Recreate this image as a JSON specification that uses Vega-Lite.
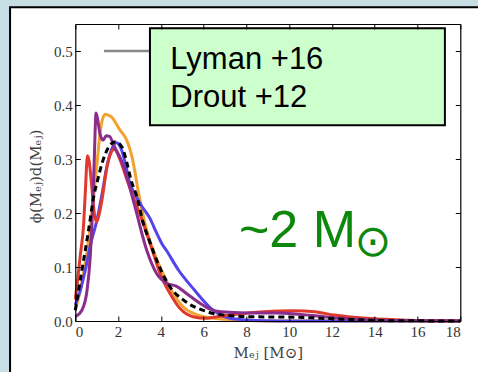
{
  "$schema": "https://vega.github.io/schema/vega-lite/v6.json",
  "width": 385,
  "height": 297,
  "autosize": {"type": "none"},
  "padding": {"left": 75.3, "top": 24, "right": 17.7, "bottom": 51},
  "background": "#c7dee5",
  "config": {
    "view": {"stroke": null},
    "axis": {
      "domainColor": "black",
      "domainWidth": 1.2,
      "tickColor": "black",
      "tickSize": -5,
      "tickWidth": 1,
      "labelFont": "Liberation Serif",
      "labelFontSize": 15,
      "labelColor": "#333333",
      "titleFont": "DejaVu Serif",
      "titleFontSize": 15,
      "titleColor": "#444444",
      "titleFontWeight": "normal",
      "grid": false
    }
  },
  "datasets": {
    "curves": [
      {"s": "red", "x": 0, "y": 0.04}, {"s": "red", "x": 0.12, "y": 0.08}, {"s": "red", "x": 0.23, "y": 0.12}, {"s": "red", "x": 0.39, "y": 0.18}, {"s": "red", "x": 0.47, "y": 0.24}, {"s": "red", "x": 0.57, "y": 0.306}, {"s": "red", "x": 0.65, "y": 0.295}, {"s": "red", "x": 0.72, "y": 0.27}, {"s": "red", "x": 0.8, "y": 0.235}, {"s": "red", "x": 0.9, "y": 0.196}, {"s": "red", "x": 1.0, "y": 0.184}, {"s": "red", "x": 1.1, "y": 0.195}, {"s": "red", "x": 1.25, "y": 0.225}, {"s": "red", "x": 1.48, "y": 0.285}, {"s": "red", "x": 1.65, "y": 0.31}, {"s": "red", "x": 1.82, "y": 0.318}, {"s": "red", "x": 2.1, "y": 0.298}, {"s": "red", "x": 2.42, "y": 0.261}, {"s": "red", "x": 2.75, "y": 0.226}, {"s": "red", "x": 3.0, "y": 0.2}, {"s": "red", "x": 3.34, "y": 0.162}, {"s": "red", "x": 3.65, "y": 0.125}, {"s": "red", "x": 3.96, "y": 0.088}, {"s": "red", "x": 4.43, "y": 0.051}, {"s": "red", "x": 4.9, "y": 0.023}, {"s": "red", "x": 5.5, "y": 0.008}, {"s": "red", "x": 6.1, "y": 0.005}, {"s": "red", "x": 6.8, "y": 0.009}, {"s": "red", "x": 7.6, "y": 0.013}, {"s": "red", "x": 8.8, "y": 0.017}, {"s": "red", "x": 10.2, "y": 0.019}, {"s": "red", "x": 11.2, "y": 0.017}, {"s": "red", "x": 12.1, "y": 0.011}, {"s": "red", "x": 13.6, "y": 0.005}, {"s": "red", "x": 15.2, "y": 0.002}, {"s": "red", "x": 16.5, "y": 0.0005}, {"s": "red", "x": 18, "y": 0},

      {"s": "orange", "x": 0, "y": 0.02}, {"s": "orange", "x": 0.3, "y": 0.07}, {"s": "orange", "x": 0.55, "y": 0.13}, {"s": "orange", "x": 0.8, "y": 0.21}, {"s": "orange", "x": 1.0, "y": 0.285}, {"s": "orange", "x": 1.15, "y": 0.345}, {"s": "orange", "x": 1.25, "y": 0.37}, {"s": "orange", "x": 1.4, "y": 0.383}, {"s": "orange", "x": 1.55, "y": 0.381}, {"s": "orange", "x": 1.72, "y": 0.377}, {"s": "orange", "x": 1.9, "y": 0.366}, {"s": "orange", "x": 2.1, "y": 0.353}, {"s": "orange", "x": 2.34, "y": 0.34}, {"s": "orange", "x": 2.5, "y": 0.325}, {"s": "orange", "x": 2.65, "y": 0.304}, {"s": "orange", "x": 2.78, "y": 0.278}, {"s": "orange", "x": 2.9, "y": 0.25}, {"s": "orange", "x": 3.34, "y": 0.168}, {"s": "orange", "x": 3.65, "y": 0.13}, {"s": "orange", "x": 3.96, "y": 0.1}, {"s": "orange", "x": 4.58, "y": 0.051}, {"s": "orange", "x": 5.05, "y": 0.026}, {"s": "orange", "x": 5.67, "y": 0.012}, {"s": "orange", "x": 6.3, "y": 0.006}, {"s": "orange", "x": 7, "y": 0.003}, {"s": "orange", "x": 8, "y": 0.001}, {"s": "orange", "x": 10, "y": 0}, {"s": "orange", "x": 18, "y": 0},

      {"s": "blue", "x": 0, "y": 0.03}, {"s": "blue", "x": 0.22, "y": 0.055}, {"s": "blue", "x": 0.5, "y": 0.1}, {"s": "blue", "x": 0.7, "y": 0.14}, {"s": "blue", "x": 1.0, "y": 0.185}, {"s": "blue", "x": 1.25, "y": 0.235}, {"s": "blue", "x": 1.47, "y": 0.285}, {"s": "blue", "x": 1.7, "y": 0.318}, {"s": "blue", "x": 1.93, "y": 0.33}, {"s": "blue", "x": 2.15, "y": 0.318}, {"s": "blue", "x": 2.35, "y": 0.29}, {"s": "blue", "x": 2.55, "y": 0.255}, {"s": "blue", "x": 2.75, "y": 0.238}, {"s": "blue", "x": 3.1, "y": 0.213}, {"s": "blue", "x": 3.49, "y": 0.19}, {"s": "blue", "x": 3.8, "y": 0.163}, {"s": "blue", "x": 4.05, "y": 0.143}, {"s": "blue", "x": 4.27, "y": 0.13}, {"s": "blue", "x": 4.83, "y": 0.094}, {"s": "blue", "x": 5.05, "y": 0.082}, {"s": "blue", "x": 5.6, "y": 0.056}, {"s": "blue", "x": 5.83, "y": 0.045}, {"s": "blue", "x": 6.3, "y": 0.025}, {"s": "blue", "x": 6.7, "y": 0.013}, {"s": "blue", "x": 7.23, "y": 0.005}, {"s": "blue", "x": 8, "y": 0.002}, {"s": "blue", "x": 9, "y": 0.0005}, {"s": "blue", "x": 10, "y": 0}, {"s": "blue", "x": 18, "y": 0},

      {"s": "purple", "x": 0, "y": 0.008}, {"s": "purple", "x": 0.31, "y": 0.02}, {"s": "purple", "x": 0.55, "y": 0.057}, {"s": "purple", "x": 0.7, "y": 0.12}, {"s": "purple", "x": 0.8, "y": 0.2}, {"s": "purple", "x": 0.88, "y": 0.29}, {"s": "purple", "x": 0.97, "y": 0.385}, {"s": "purple", "x": 1.05, "y": 0.372}, {"s": "purple", "x": 1.15, "y": 0.347}, {"s": "purple", "x": 1.3, "y": 0.335}, {"s": "purple", "x": 1.45, "y": 0.343}, {"s": "purple", "x": 1.6, "y": 0.342}, {"s": "purple", "x": 1.8, "y": 0.325}, {"s": "purple", "x": 2.18, "y": 0.295}, {"s": "purple", "x": 2.4, "y": 0.268}, {"s": "purple", "x": 2.8, "y": 0.21}, {"s": "purple", "x": 3.34, "y": 0.131}, {"s": "purple", "x": 3.8, "y": 0.088}, {"s": "purple", "x": 4.27, "y": 0.07}, {"s": "purple", "x": 4.74, "y": 0.064}, {"s": "purple", "x": 5.2, "y": 0.051}, {"s": "purple", "x": 5.83, "y": 0.033}, {"s": "purple", "x": 6.3, "y": 0.022}, {"s": "purple", "x": 6.8, "y": 0.017}, {"s": "purple", "x": 8, "y": 0.015}, {"s": "purple", "x": 9.5, "y": 0.015}, {"s": "purple", "x": 11.1, "y": 0.01}, {"s": "purple", "x": 12.4, "y": 0.005}, {"s": "purple", "x": 13.4, "y": 0.003}, {"s": "purple", "x": 15, "y": 0.001}, {"s": "purple", "x": 18, "y": 0},

      {"s": "black", "x": 0, "y": 0.02}, {"s": "black", "x": 0.31, "y": 0.094}, {"s": "black", "x": 0.62, "y": 0.168}, {"s": "black", "x": 0.86, "y": 0.23}, {"s": "black", "x": 1.05, "y": 0.262}, {"s": "black", "x": 1.25, "y": 0.292}, {"s": "black", "x": 1.56, "y": 0.322}, {"s": "black", "x": 1.87, "y": 0.332}, {"s": "black", "x": 2.18, "y": 0.322}, {"s": "black", "x": 2.4, "y": 0.295}, {"s": "black", "x": 2.6, "y": 0.262}, {"s": "black", "x": 2.88, "y": 0.23}, {"s": "black", "x": 3.18, "y": 0.181}, {"s": "black", "x": 3.5, "y": 0.145}, {"s": "black", "x": 3.8, "y": 0.113}, {"s": "black", "x": 4.43, "y": 0.063}, {"s": "black", "x": 5.05, "y": 0.039}, {"s": "black", "x": 5.52, "y": 0.027}, {"s": "black", "x": 5.83, "y": 0.022}, {"s": "black", "x": 6.45, "y": 0.014}, {"s": "black", "x": 7.2, "y": 0.01}, {"s": "black", "x": 8, "y": 0.008}, {"s": "black", "x": 10.3, "y": 0.007}, {"s": "black", "x": 11.5, "y": 0.005}, {"s": "black", "x": 12.8, "y": 0.003}, {"s": "black", "x": 14, "y": 0.001}, {"s": "black", "x": 16, "y": 0.0003}, {"s": "black", "x": 18, "y": 0}
    ]
  },
  "resolve": {"axis": {"x": "independent", "y": "independent"}},
  "layer": [
    {
      "data": {"values": [{}]},
      "mark": {"type": "rect", "fill": "white", "stroke": "black", "strokeWidth": 2},
      "encoding": {
        "x": {"datum": -3.05, "type": "quantitative", "scale": {"domain": [0, 18], "nice": false}, "axis": null},
        "x2": {"datum": 30},
        "y": {"datum": 0.581, "type": "quantitative", "scale": {"domain": [0, 0.55], "nice": false}, "axis": null},
        "y2": {"datum": -0.3}
      }
    },
    {
      "data": {"values": [{}]},
      "mark": {"type": "rule", "stroke": "#888888", "strokeWidth": 2.5},
      "encoding": {
        "x": {"datum": 1.34, "type": "quantitative", "scale": {"domain": [0, 18], "nice": false},
              "axis": {"orient": "top", "labels": false, "title": null, "zindex": 2, "values": [0, 2, 4, 6, 8, 10, 12, 14, 16, 18]}},
        "x2": {"datum": 4.0},
        "y": {"datum": 0.5, "type": "quantitative", "scale": {"domain": [0, 0.55], "nice": false},
              "axis": {"orient": "right", "labels": false, "title": null, "zindex": 2, "values": [0, 0.1, 0.2, 0.3, 0.4, 0.5]}}
      }
    },
    {
      "data": {"name": "curves"},
      "transform": [{"filter": "datum.s === 'orange'"}],
      "mark": {"type": "line", "stroke": "#f2a22e", "strokeWidth": 3, "interpolate": "monotone"},
      "encoding": {
        "x": {"field": "x", "type": "quantitative", "scale": {"domain": [0, 18], "nice": false},
              "axis": {"orient": "bottom", "zindex": 2, "values": [0, 2, 4, 6, 8, 10, 12, 14, 16, 18], "title": "Mₑⱼ [M⊙]", "titleY": 31, "titleBaseline": "middle", "labelPadding": 8}},
        "y": {"field": "y", "type": "quantitative", "scale": {"domain": [0, 0.55], "nice": false},
              "axis": {"orient": "left", "zindex": 2, "values": [0, 0.1, 0.2, 0.3, 0.4, 0.5], "format": ".1f", "title": "ϕ(Mₑⱼ)d(Mₑⱼ)", "titleX": -40, "titleY": 152, "titleBaseline": "middle", "labelPadding": 8}}
      }
    },
    {
      "data": {"name": "curves"},
      "transform": [{"filter": "datum.s === 'blue'"}],
      "mark": {"type": "line", "stroke": "#5544ee", "strokeWidth": 3, "interpolate": "monotone"},
      "encoding": {
        "x": {"field": "x", "type": "quantitative", "scale": {"domain": [0, 18], "nice": false}, "axis": null},
        "y": {"field": "y", "type": "quantitative", "scale": {"domain": [0, 0.55], "nice": false}, "axis": null}
      }
    },
    {
      "data": {"name": "curves"},
      "transform": [{"filter": "datum.s === 'red'"}],
      "mark": {"type": "line", "stroke": "#df3a2c", "strokeWidth": 3, "interpolate": "monotone"},
      "encoding": {
        "x": {"field": "x", "type": "quantitative", "scale": {"domain": [0, 18], "nice": false}, "axis": null},
        "y": {"field": "y", "type": "quantitative", "scale": {"domain": [0, 0.55], "nice": false}, "axis": null}
      }
    },
    {
      "data": {"name": "curves"},
      "transform": [{"filter": "datum.s === 'purple'"}],
      "mark": {"type": "line", "stroke": "#8a2d8c", "strokeWidth": 3, "interpolate": "monotone"},
      "encoding": {
        "x": {"field": "x", "type": "quantitative", "scale": {"domain": [0, 18], "nice": false}, "axis": null},
        "y": {"field": "y", "type": "quantitative", "scale": {"domain": [0, 0.55], "nice": false}, "axis": null}
      }
    },
    {
      "data": {"name": "curves"},
      "transform": [{"filter": "datum.s === 'black'"}],
      "mark": {"type": "line", "stroke": "black", "strokeWidth": 3, "strokeDash": [6, 4], "interpolate": "monotone"},
      "encoding": {
        "x": {"field": "x", "type": "quantitative", "scale": {"domain": [0, 18], "nice": false}, "axis": null},
        "y": {"field": "y", "type": "quantitative", "scale": {"domain": [0, 0.55], "nice": false}, "axis": null}
      }
    },
    {
      "data": {"values": [{}]},
      "mark": {"type": "rect", "fill": "#ccffcc", "stroke": "black", "strokeWidth": 2},
      "encoding": {
        "x": {"datum": 3.49, "type": "quantitative", "scale": {"domain": [0, 18], "nice": false}, "axis": null},
        "x2": {"datum": 17.28},
        "y": {"datum": 0.542, "type": "quantitative", "scale": {"domain": [0, 0.55], "nice": false}, "axis": null},
        "y2": {"datum": 0.3626}
      }
    },
    {
      "data": {"values": [{"t": "Lyman +16", "x": 4.44, "y": 0.466}, {"t": "Drout +12", "x": 4.44, "y": 0.396}]},
      "mark": {"type": "text", "font": "Liberation Sans", "fontSize": 31, "color": "black", "align": "left", "baseline": "alphabetic"},
      "encoding": {
        "text": {"field": "t"},
        "x": {"field": "x", "type": "quantitative", "scale": {"domain": [0, 18], "nice": false}, "axis": null},
        "y": {"field": "y", "type": "quantitative", "scale": {"domain": [0, 0.55], "nice": false}, "axis": null}
      }
    },
    {
      "data": {"values": [{"t": "~2 M", "x": 7.65, "y": 0.137}]},
      "mark": {"type": "text", "font": "Liberation Sans", "fontSize": 52, "color": "#0d880d", "align": "left", "baseline": "alphabetic"},
      "encoding": {
        "text": {"field": "t"},
        "x": {"field": "x", "type": "quantitative", "scale": {"domain": [0, 18], "nice": false}, "axis": null},
        "y": {"field": "y", "type": "quantitative", "scale": {"domain": [0, 0.55], "nice": false}, "axis": null}
      }
    },
    {
      "data": {"values": [{"t": "⊙", "x": 13.92, "y": 0.1443}]},
      "mark": {"type": "text", "font": "DejaVu Sans", "fontSize": 44, "color": "#0d880d", "align": "center", "baseline": "middle"},
      "encoding": {
        "text": {"field": "t"},
        "x": {"field": "x", "type": "quantitative", "scale": {"domain": [0, 18], "nice": false}, "axis": null},
        "y": {"field": "y", "type": "quantitative", "scale": {"domain": [0, 0.55], "nice": false}, "axis": null}
      }
    }
  ]
}
